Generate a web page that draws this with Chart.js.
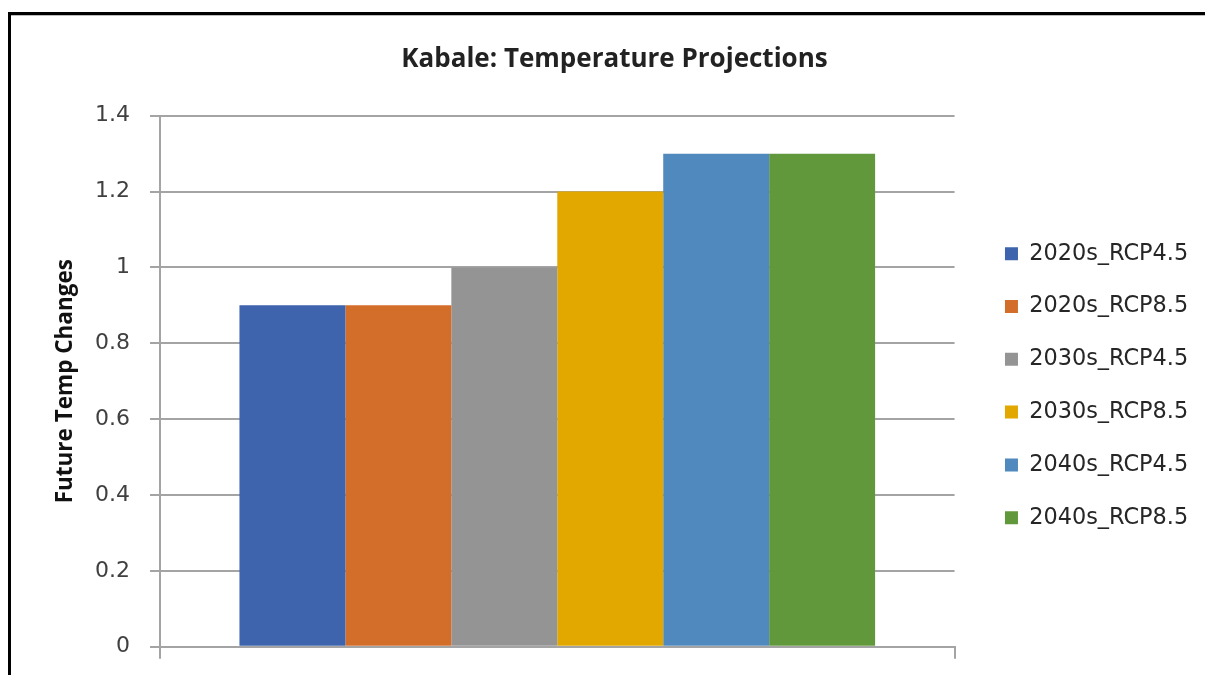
<!DOCTYPE html>
<html>
<head>
<meta charset="utf-8">
<title>Kabale: Temperature Projections</title>
<script src="https://cdn.jsdelivr.net/npm/chart.js@4.4.1/dist/chart.umd.min.js"></script>
<style>
  html, body { margin: 0; padding: 0; background: #ffffff; }
  #wrap { position: relative; width: 1205px; height: 675px; }
  canvas { display: block; }
</style>
</head>
<body>
<div id="wrap"><canvas id="chart" width="1205" height="675"></canvas></div>
<script>
// Projected temperature change for Kabale, one bar per period / scenario
const categories = [''];
const seriesNames = ['2020s_RCP4.5', '2020s_RCP8.5', '2030s_RCP4.5', '2030s_RCP8.5', '2040s_RCP4.5', '2040s_RCP8.5'];
const seriesValues = [0.9, 0.9, 1.0, 1.2, 1.3, 1.3];
const seriesColors = ['#3d64ad', '#d36e2a', '#949494', '#e2a800', '#4f89bd', '#62983c'];
const yTicks = [0, 0.2, 0.4, 0.6, 0.8, 1, 1.2, 1.4];

const gridColor = '#a4a4a4';

// Outer frame (top and left edges of the chart border)
const framePlugin = {
  id: 'frame',
  beforeDraw(chart) {
    const ctx = chart.ctx;
    ctx.save();
    ctx.fillStyle = '#ffffff';
    ctx.fillRect(0, 0, chart.width, chart.height);
    ctx.fillStyle = '#000000';
    ctx.fillRect(8, 12, chart.width - 8, 3);
    ctx.fillRect(8, 12, 3, chart.height - 12);
    ctx.fillStyle = '#bdbdbd';
    ctx.fillRect(11, 15, chart.width - 11, 1);
    ctx.restore();
  }
};

// Leave a gap between the plot area and the legend column
const legendGapPlugin = {
  id: 'legendGap',
  afterLayout(chart) {
    const lg = chart.legend;
    if (!lg) return;
    const dx = 20, dy = 4.5;
    lg.left += dx; lg.right += dx;
    lg.top += dy; lg.bottom += dy;
  }
};

const datasets = seriesNames.map((name, i) => ({
  label: name,
  data: [seriesValues[i]],
  backgroundColor: seriesColors[i],
  borderWidth: 0,
  categoryPercentage: 0.8,
  barPercentage: 1.0
}));

new Chart(document.getElementById('chart'), {
  type: 'bar',
  data: { labels: categories, datasets },
  plugins: [framePlugin, legendGapPlugin],
  options: {
    responsive: false,
    animation: false,
    devicePixelRatio: 1,
    layout: { padding: { left: 50.8, right: 26.8, top: 0, bottom: 16.3 } },
    plugins: {
      title: {
        display: true,
        text: 'Kabale: Temperature Projections',
        color: '#222222',
        font: { family: '"Open Sans", sans-serif', size: 26, weight: 'bold' },
        padding: { top: 44, bottom: 40.5 }
      },
      legend: {
        display: true,
        position: 'right',
        align: 'center',
        fullSize: false,
        labels: {
          boxWidth: 13,
          boxHeight: 13,
          padding: 30.4,
          color: '#262626',
          font: { family: '"DejaVu Sans", sans-serif', size: 22.4 }
        }
      },
      tooltip: { enabled: false }
    },
    scales: {
      x: {
        type: 'category',
        offset: true,
        grid: {
          display: true,
          offset: true,
          drawOnChartArea: false,
          drawTicks: true,
          tickLength: 12,
          color: gridColor,
          lineWidth: 2
        },
        border: { display: true, color: gridColor, width: 2 },
        ticks: { display: false }
      },
      y: {
        min: 0,
        max: 1.4,
        afterBuildTicks(scale) {
          scale.ticks = yTicks.map(v => ({ value: v }));
        },
        afterFit(scale) {
          scale.width = 109.2;
          scale.paddingTop = 0;
          scale.paddingBottom = 0;
        },
        grid: {
          color: gridColor,
          lineWidth: 2,
          drawTicks: true,
          tickLength: 10
        },
        border: { display: true, color: gridColor, width: 2 },
        ticks: {
          padding: 20,
          color: '#404040',
          font: { family: '"DejaVu Sans", sans-serif', size: 22 },
          callback: v => String(Math.round(v * 10) / 10)
        },
        title: {
          display: true,
          text: 'Future Temp Changes',
          color: '#111111',
          font: { family: '"Open Sans", sans-serif', size: 22.5, weight: 'bold' },
          padding: { top: 1, bottom: 0 }
        }
      }
    }
  }
});
</script>
</body>
</html>
